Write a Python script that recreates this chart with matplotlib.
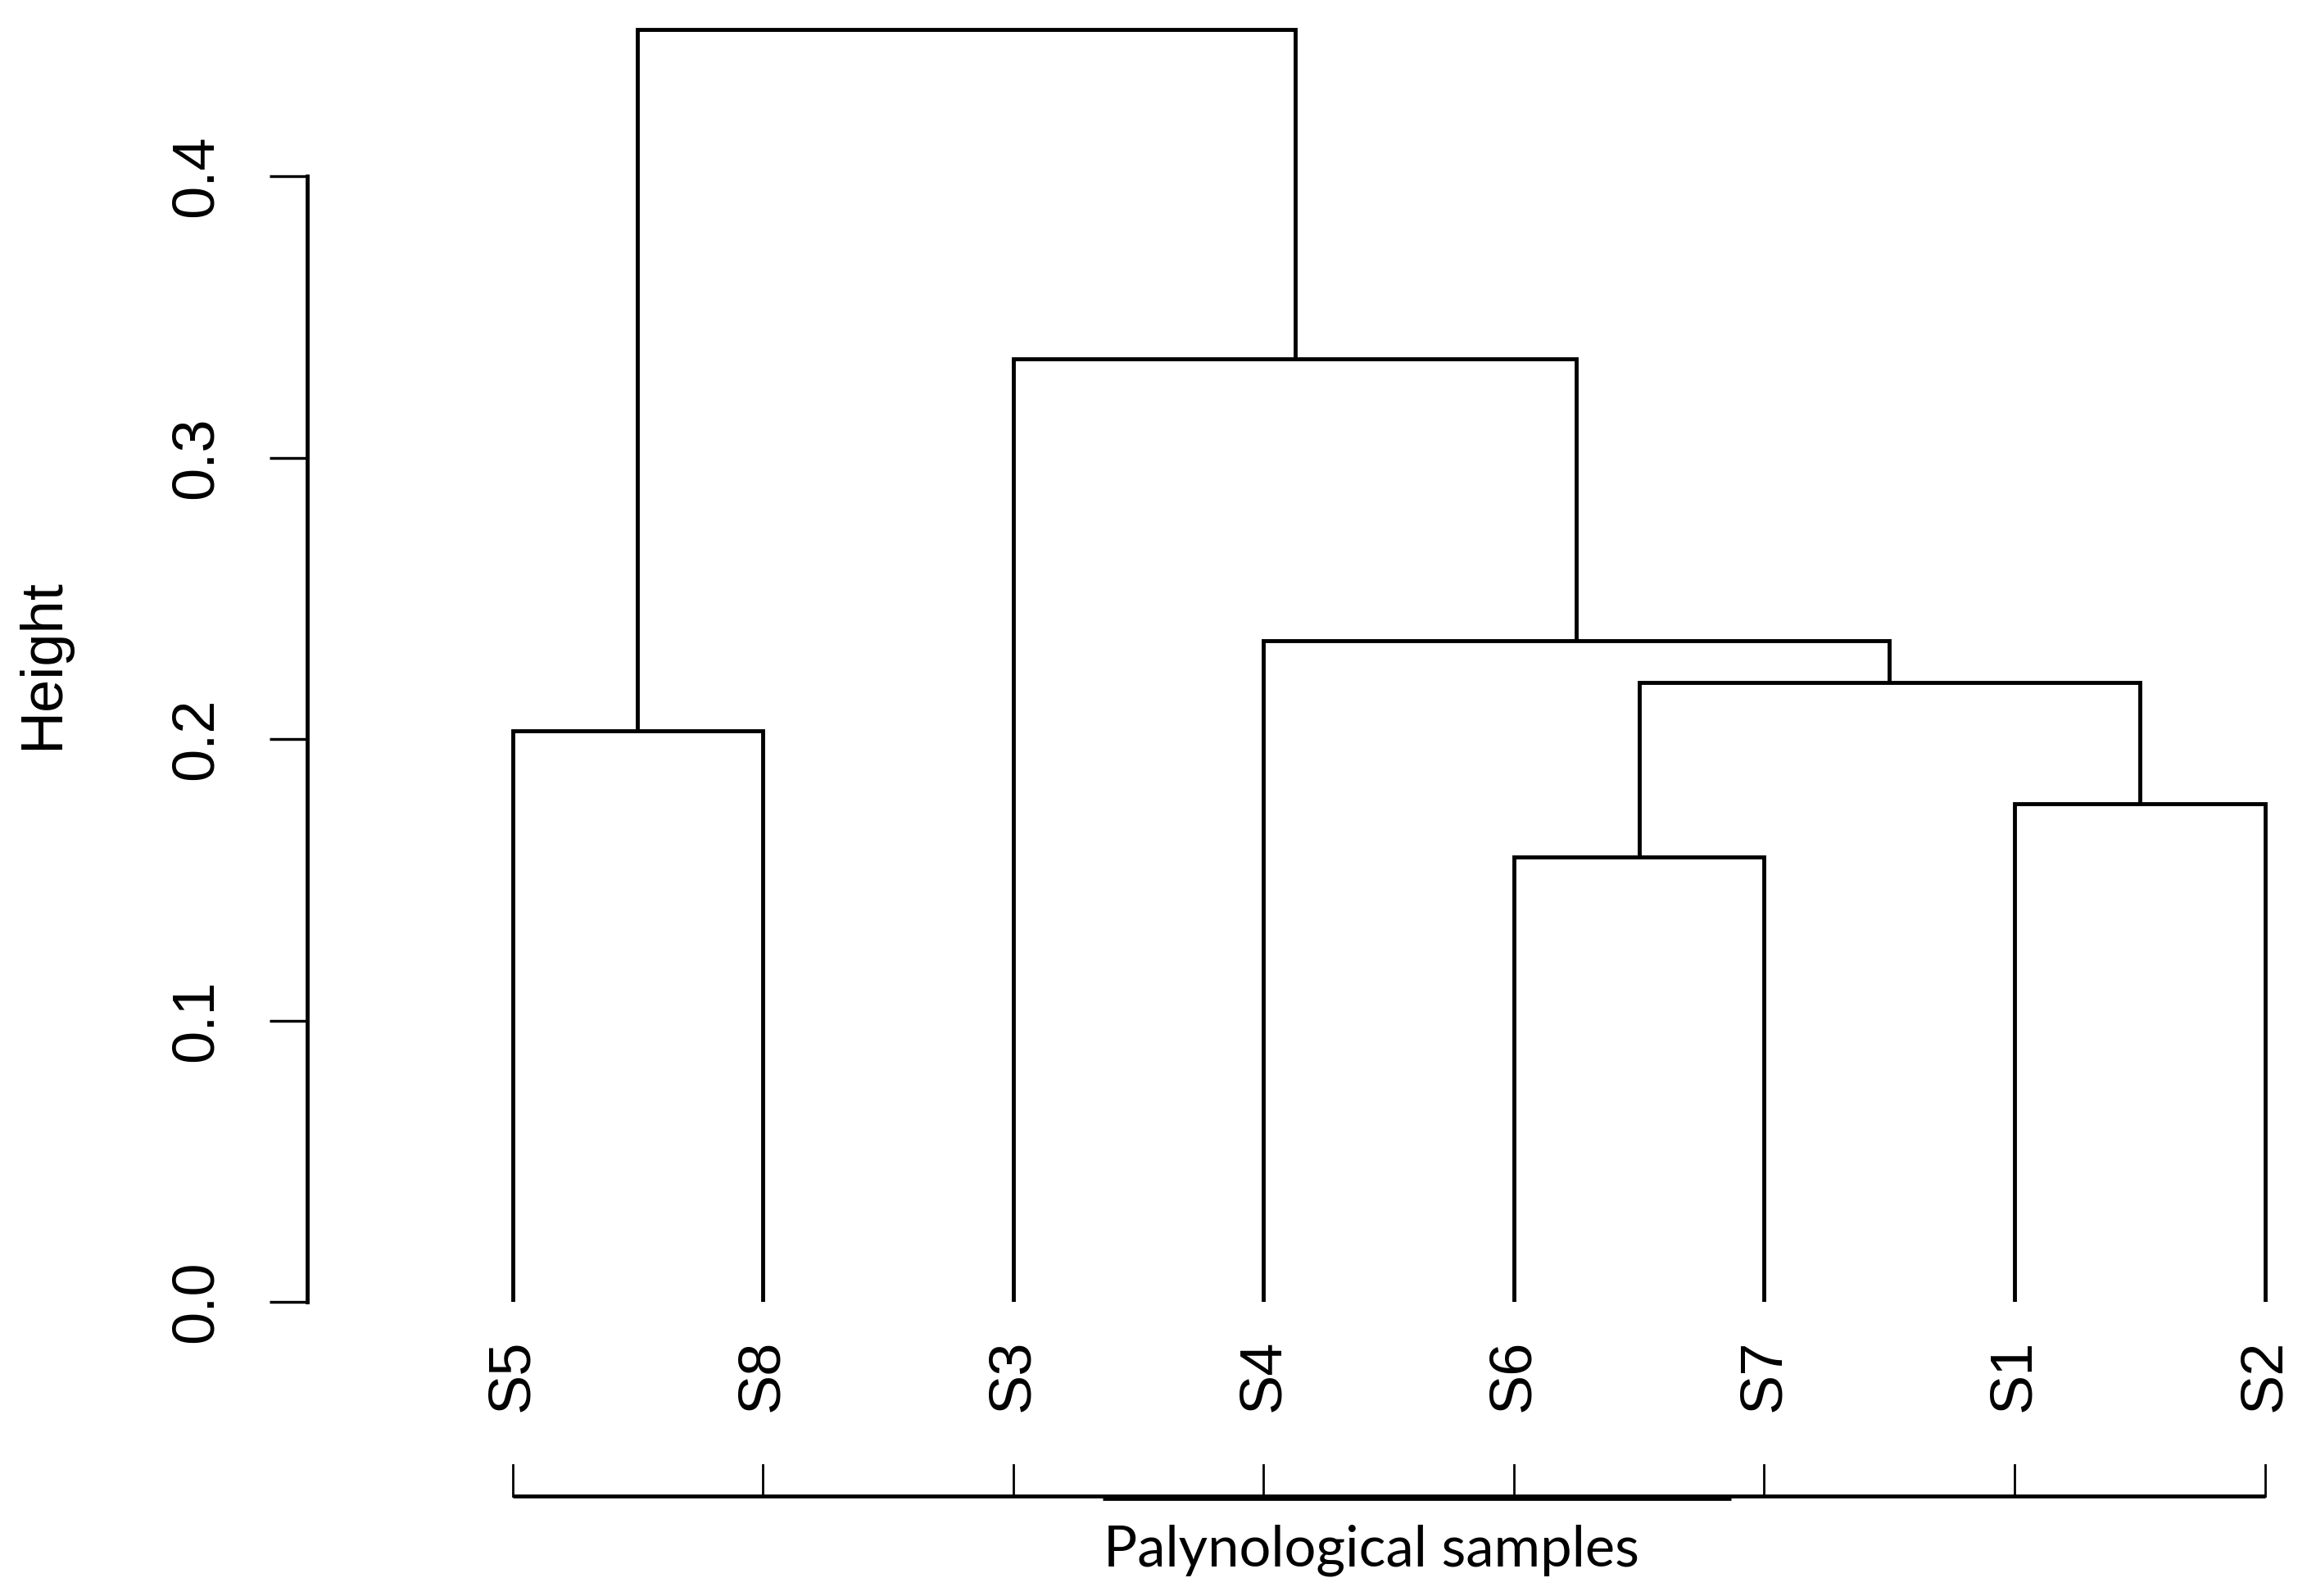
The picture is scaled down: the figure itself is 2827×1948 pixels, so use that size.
import numpy as np
import matplotlib
matplotlib.use('Agg')
import matplotlib.pyplot as plt

# ====================
# DATOS DEL DENDROGRAMA
# ====================

# orden de las hojas (de izquierda a derecha)
muestras = ['S5', 'S8', 'S3', 'S4', 'S6', 'S7', 'S1', 'S2']

# fusiones (grupo a, grupo b, altura); los grupos nuevos se nombran a+b
uniones = [
    ('S5', 'S8', 0.203),
    ('S1', 'S2', 0.177),
    ('S6', 'S7', 0.158),
    ('S6S7', 'S1S2', 0.220),
    ('S4', 'S6S7S1S2', 0.235),
    ('S3', 'S4S6S7S1S2', 0.335),
    ('S5S8', 'S3S4S6S7S1S2', 0.452),
]

yticks = [0.0, 0.1, 0.2, 0.3, 0.4]

# ====================
# FIGURA
# ====================

fig = plt.figure(figsize=(28.27, 19.48), dpi=100)
ax = fig.add_axes([375 / 2827, 1 - 1589 / 1948, 1 - 375 / 2827, 1589 / 1948])

xpos = np.arange(1, len(muestras) + 1)
pos = {m: x for m, x in zip(muestras, xpos)}
alt = {m: 0.0 for m in muestras}

lw = 3.5
for a, b, h in uniones:
    xa, xb = pos[a], pos[b]
    ax.plot([xa, xa, xb, xb], [alt[a], h, h, alt[b]], color='black', lw=lw,
            solid_joinstyle='miter', solid_capstyle='butt')
    nuevo = a + b
    pos[nuevo] = (xa + xb) / 2
    alt[nuevo] = h

ax.set_xlim(0.18, 8.204)
ax.set_ylim(0, 0.4626)

for s in ['top', 'right', 'bottom']:
    ax.spines[s].set_visible(False)
ax.spines['left'].set_bounds(0, 0.4)
ax.spines['left'].set_linewidth(lw)

ax.set_yticks(yticks)
ax.set_yticklabels([f'{v:.1f}' for v in yticks], rotation=90, va='center',
                   family='Liberation Sans', fontsize=52)
ax.tick_params(axis='y', length=33, width=lw * 0.7, pad=40)

ax.set_xticks(xpos)
ax.set_xticklabels(muestras, rotation=90, family='Liberation Sans', fontsize=52)
ax.tick_params(axis='x', length=0, pad=33)

# corchete inferior con marcas
yb = -0.0690
yt = -0.0580
ax.plot([xpos[0], xpos[-1]], [yb, yb], color='black', lw=3.4, clip_on=False,
        solid_capstyle='butt')
ax.plot([3.358, 5.868], [yb - 0.0008, yb - 0.0008], color='black', lw=3.4,
        clip_on=False, solid_capstyle='butt')
for x in xpos:
    ax.plot([x, x], [yb, yt], color='black', lw=2.0, clip_on=False)

fig.text(1674 / 2827, 1 - 1892 / 1948, 'Palynological samples', ha='center',
         va='center', family='Lato', fontsize=49.5)
fig.text(53 / 2827, 1 - 811 / 1948, 'Height', ha='center', va='center',
         rotation=90, family='Liberation Sans', fontsize=52)

fig.savefig('out.png', dpi=100, facecolor='white')
